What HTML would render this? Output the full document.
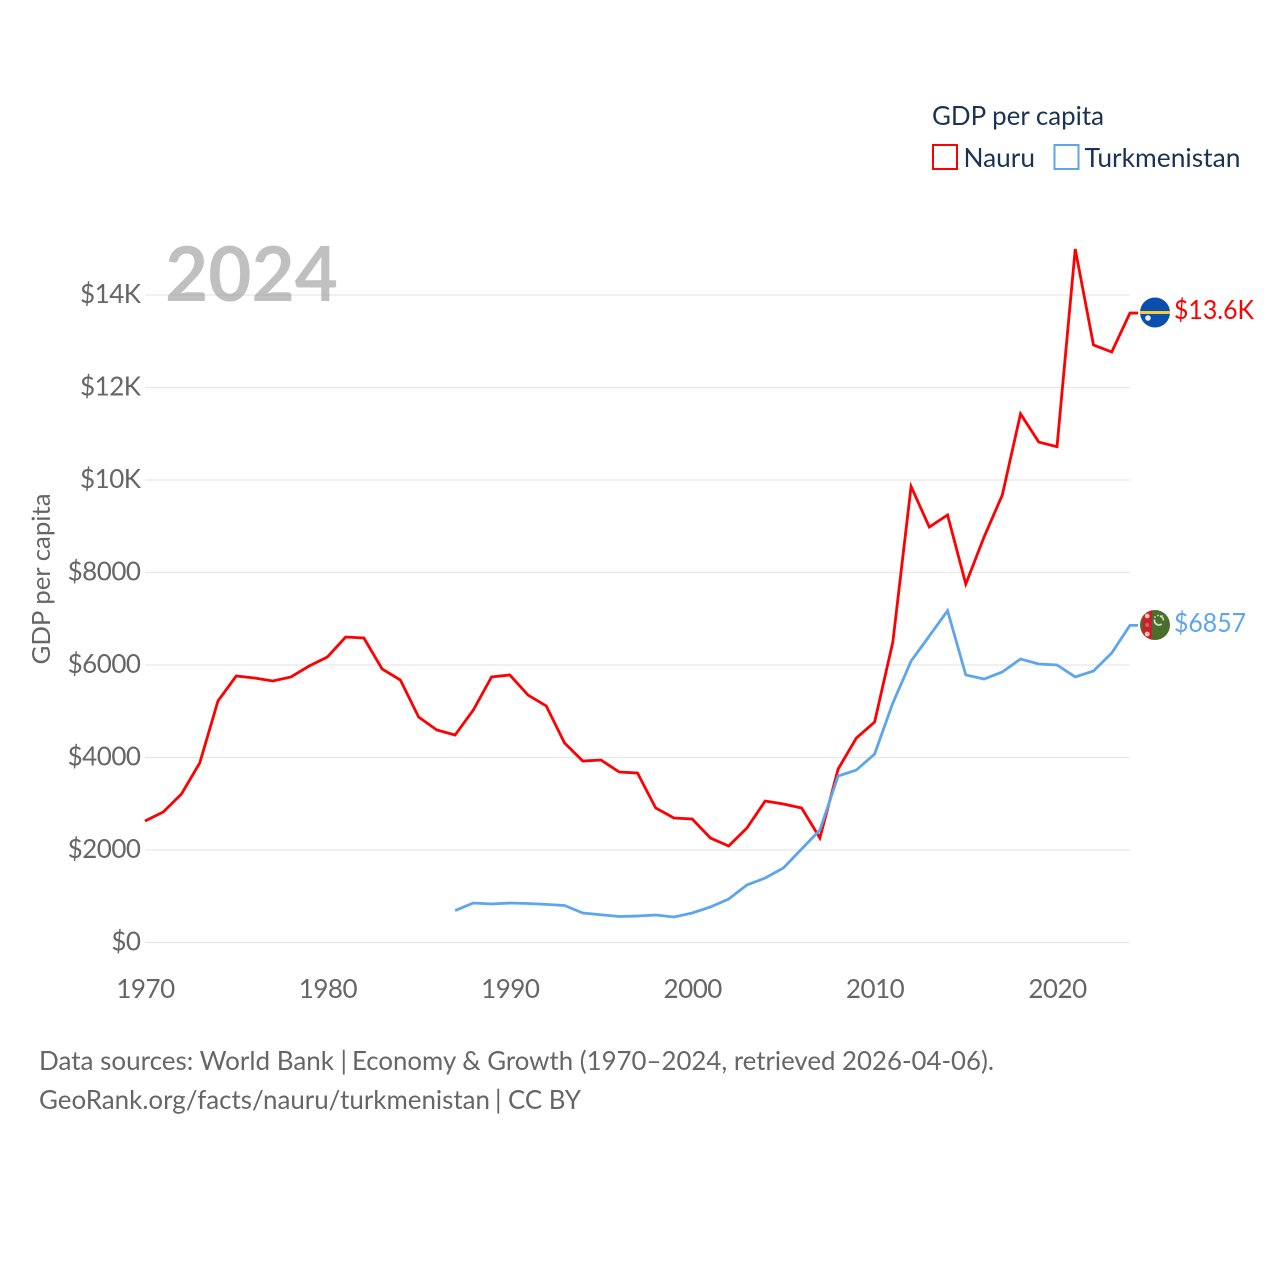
<!DOCTYPE html>
<html lang="en">
<head>
<meta charset="utf-8">
<title>GDP per capita: Nauru and Turkmenistan</title>
<style>
html,body{margin:0;padding:0;background:#fff;width:1280px;height:1280px;overflow:hidden}
svg{display:block}
text{font-family:Lato,Carlito,"Liberation Sans",sans-serif}
</style>
</head>
<body>
<svg id="chart" xmlns="http://www.w3.org/2000/svg" width="1280" height="1280" viewBox="0 0 1280 1280">
  <rect width="1280" height="1280" fill="#fff"/>
  <g id="grid"></g>
  <g id="yticks"></g>
  <g id="xticks"></g>
  <text x="165" y="301" font-size="76" font-weight="700" fill="#999" fill-opacity="0.62" textLength="173" lengthAdjust="spacingAndGlyphs">2024</text>
  <text transform="translate(50,579) rotate(-90)" text-anchor="middle" font-size="25" fill="#666" textLength="171" lengthAdjust="spacingAndGlyphs">GDP per capita</text>
  <g id="series"></g>

  <g>
    <text x="932" y="125" font-size="26" fill="#1a3353" textLength="172" lengthAdjust="spacingAndGlyphs">GDP per capita</text>
    <g>
      <rect x="933" y="145" width="24" height="24" fill="#fff" stroke="#ff0000" stroke-width="2"/>
      <text x="963.500" y="167" font-size="26" fill="#1a3353" textLength="71.500" lengthAdjust="spacingAndGlyphs">Nauru</text>
    </g>
    <g>
      <rect x="1054.500" y="145" width="24" height="24" fill="#fff" stroke="#5da5ec" stroke-width="2"/>
      <text x="1084.500" y="167" font-size="26" fill="#1a3353" textLength="156" lengthAdjust="spacingAndGlyphs">Turkmenistan</text>
    </g>
  </g>

  <defs>
    <clipPath id="flag-clip-nr"><circle cx="1155" cy="312.500" r="15"/></clipPath>
    <clipPath id="flag-clip-tm"><circle cx="1155" cy="625" r="15"/></clipPath>
  </defs>
  <g clip-path="url(#flag-clip-nr)">
    <rect x="1140" y="297" width="30" height="31" fill="#0a4fae"/>
    <rect x="1140" y="311" width="30" height="3" fill="#f7c93e"/>
    <circle cx="1148" cy="318" r="2.800" fill="#e8eef6"/>
  </g>
  <g clip-path="url(#flag-clip-tm)">
    <rect x="1140" y="609" width="30" height="32" fill="#4a6e2c"/>
    <rect x="1142.500" y="609" width="9.500" height="32" fill="#c8202f"/>
    <circle cx="1147.200" cy="616" r="2.400" fill="#f0c8a0"/>
    <circle cx="1147.200" cy="625" r="2" fill="#b8705a"/>
    <circle cx="1147.200" cy="634" r="2.400" fill="#f0c8a0"/>
    <circle cx="1159" cy="620.500" r="4.500" fill="none" stroke="#cfd8c0" stroke-width="1.800" stroke-dasharray="11 7" stroke-dashoffset="-4"/>
    <circle cx="1155" cy="617" r="0.900" fill="#dfe5d4"/>
    <circle cx="1158" cy="615.500" r="0.900" fill="#dfe5d4"/>
    <circle cx="1162" cy="616" r="0.900" fill="#dfe5d4"/>
  </g>
  <text id="label-nauru" x="1174" y="319" font-size="26" fill="#ff0000" textLength="80" lengthAdjust="spacingAndGlyphs"></text>
  <text id="label-turkmenistan" x="1174" y="632" font-size="26" fill="#5da5ec" textLength="72" lengthAdjust="spacingAndGlyphs"></text>

  <text y="1070" font-size="26" fill="#666"><tspan x="39" textLength="295" lengthAdjust="spacingAndGlyphs">Data sources: World Bank</tspan> <tspan x="340.500">|</tspan> <tspan x="352" textLength="642" lengthAdjust="spacingAndGlyphs">Economy &amp; Growth (1970–2024, retrieved 2026-04-06).</tspan></text>
  <text y="1109" font-size="26" fill="#666"><tspan x="39" textLength="451" lengthAdjust="spacingAndGlyphs">GeoRank.org/facts/nauru/turkmenistan</tspan> <tspan x="495">|</tspan> <tspan x="508" textLength="73" lengthAdjust="spacingAndGlyphs">CC BY</tspan></text>
</svg>
<script>
const yTickValues = [0, 2000, 4000, 6000, 8000, 10000, 12000, 14000];
const yTickLabels = ['$0', '$2000', '$4000', '$6000', '$8000', '$10K', '$12K', '$14K'];
const xTickYears = [1970, 1980, 1990, 2000, 2010, 2020];
const nauruStartYear = 1970;
const nauruValues = [2627, 2822, 3211, 3881, 5222, 5762, 5719, 5654, 5741, 5978, 6173, 6605, 6584, 5914, 5676, 4876, 4595, 4486, 5027, 5741, 5784, 5351, 5114, 4314, 3924, 3946, 3686, 3665, 2908, 2692, 2670, 2259, 2086, 2476, 3059, 2995, 2908, 2259, 3751, 4421, 4767, 6497, 9860, 8983, 9243, 7751, 8767, 9675, 11430, 10820, 10720, 14994, 12920, 12767, 13610];
const turkmenistanStartYear = 1987;
const turkmenistanValues = [690, 854, 832, 854, 843, 825, 800, 637, 600, 562, 573, 595, 551, 638, 768, 941, 1244, 1394, 1611, 2022, 2432, 3600, 3729, 4075, 5178, 6086, 6627, 7175, 5784, 5697, 5849, 6130, 6022, 6000, 5741, 5870, 6259, 6857];
const nauruEndLabel = '$13.6K';
const turkmenistanEndLabel = '$6857';

const SVG_NS = 'http://www.w3.org/2000/svg';
const xScale = function (year) { return 145 + (year - 1970) * 18.24; };
const yScale = function (value) { return 942.5 - value * 0.04625; };

const grid = document.getElementById('grid');
const yticks = document.getElementById('yticks');
const xticks = document.getElementById('xticks');
const series = document.getElementById('series');

yTickValues.forEach(function (value, i) {
  const line = document.createElementNS(SVG_NS, 'line');
  
  
  line.setAttribute('x1', 145);
  line.setAttribute('x2', 1130);
  line.setAttribute('y1', yScale(value));
  line.setAttribute('y2', yScale(value));
  line.setAttribute('stroke', '#e8e8e8');
  line.setAttribute('stroke-width', 1.3);
  grid.appendChild(line);

  const label = document.createElementNS(SVG_NS, 'text');
  
  
  label.setAttribute('x', 140.5);
  label.setAttribute('y', yScale(value) + 8);
  label.setAttribute('text-anchor', 'end');
  label.setAttribute('font-size', 26);
  label.setAttribute('letter-spacing', '-0.5');
  label.setAttribute('fill', '#666');
  label.textContent = yTickLabels[i];
  yticks.appendChild(label);
});

xTickYears.forEach(function (year) {
  const label = document.createElementNS(SVG_NS, 'text');
  
  
  label.setAttribute('x', xScale(year) + 0.5);
  label.setAttribute('y', 998);
  label.setAttribute('text-anchor', 'middle');
  label.setAttribute('font-size', 26);
  label.setAttribute('letter-spacing', '-0.5');
  label.setAttribute('fill', '#666');
  label.textContent = String(year);
  xticks.appendChild(label);
});

function buildPoints(startYear, values) {
  const points = values.map(function (value, i) {
    return xScale(startYear + i).toFixed(2) + ',' + yScale(value).toFixed(2);
  });
  const last = values[values.length - 1];
  points.push('1138,' + yScale(last).toFixed(2));
  return points.join(' ');
}

const nauruLine = document.createElementNS(SVG_NS, 'polyline');


nauruLine.setAttribute('points', buildPoints(nauruStartYear, nauruValues));
nauruLine.setAttribute('fill', 'none');
nauruLine.setAttribute('stroke', '#ff0000');
nauruLine.setAttribute('stroke-width', 2.8);
series.appendChild(nauruLine);

const turkmenistanLine = document.createElementNS(SVG_NS, 'polyline');


turkmenistanLine.setAttribute('points', buildPoints(turkmenistanStartYear, turkmenistanValues));
turkmenistanLine.setAttribute('fill', 'none');
turkmenistanLine.setAttribute('stroke', '#5da5ec');
turkmenistanLine.setAttribute('stroke-width', 2.8);
series.appendChild(turkmenistanLine);

document.getElementById('label-nauru').textContent = nauruEndLabel;
document.getElementById('label-turkmenistan').textContent = turkmenistanEndLabel;
</script>
</body>
</html>
